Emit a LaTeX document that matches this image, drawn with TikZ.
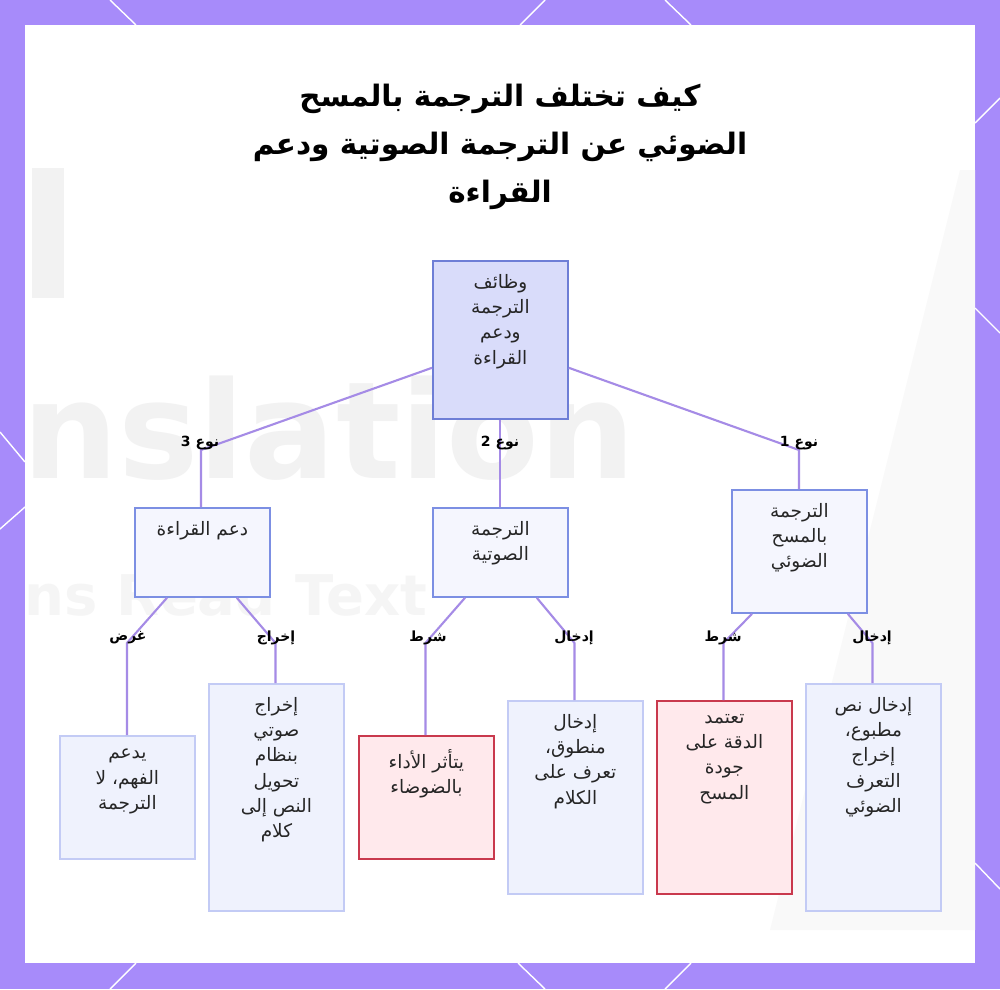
\documentclass[tikz,border=0pt]{standalone}
\usepackage{fontspec}
\newfontfamily\arabicfont[Script=Arabic]{DejaVu Sans}
\newfontfamily\wmfont{DejaVu Sans}
\TeXXeTstate=1
\newcommand{\ar}[1]{\beginR #1\endR}
\definecolor{framepurple}{HTML}{A78BFA}
\definecolor{edgecol}{HTML}{A58BE6}
\definecolor{rootfill}{HTML}{D9DCFA}
\definecolor{rootdraw}{HTML}{6E7ED6}
\definecolor{midfill}{HTML}{F5F6FE}
\definecolor{middraw}{HTML}{7C8FE3}
\definecolor{leaffill}{HTML}{EFF2FD}
\definecolor{leafdraw}{HTML}{C3CBF5}
\definecolor{redfill}{HTML}{FFE9EC}
\definecolor{reddraw}{HTML}{C9394D}
\tikzset{
  boxbase/.style={rectangle, inner sep=0pt, anchor=north west, line width=1.8pt},
  rootbox/.style={boxbase, draw=rootdraw, fill=rootfill},
  midbox/.style={boxbase, draw=middraw, fill=midfill},
  leafbox/.style={boxbase, draw=leafdraw, fill=leaffill},
  redbox/.style={boxbase, draw=reddraw, fill=redfill},
  boxtext/.style={anchor=north, inner sep=0pt, align=center, font=\arabicfont\fontsize{18.5}{25.3}\selectfont, text=black!85},
  elabel/.style={inner sep=0pt, font=\arabicfont\bfseries\fontsize{14}{16}\selectfont, text=black},
  edge/.style={draw=edgecol, line width=2.1pt},
  deco/.style={draw=white, line width=1.4pt}
}
\begin{document}
\begin{tikzpicture}[x=1pt,y=-1pt]
\useasboundingbox (0,0) rectangle (1000,989);
\fill[framepurple] (0,0) rectangle (1000,989);
\fill[white] (25,25) rectangle (975,963);
% faint background
\fill[black!2.5] (960,170) -- (975,170) -- (975,930) -- (770,930) -- cycle;
\node[anchor=west, inner sep=0pt, text=black!5, font=\wmfont\bfseries\fontsize{135}{135}\selectfont] (wm1) at (22,428) {nslation};
\node[anchor=west, inner sep=0pt, text=black!4, font=\wmfont\bfseries\fontsize{56}{56}\selectfont] (wm2) at (24,595) {ns Read Text};
\node[anchor=north west, inner sep=0pt, fill=black!5, minimum width=32pt, minimum height=130pt] (wm3) at (32,168) {};
% frame decorations
\draw[deco] (110,0) -- (136,25);
\draw[deco] (545,0) -- (520,25);
\draw[deco] (665,0) -- (691,25);
\draw[deco] (136,963) -- (110,989);
\draw[deco] (518,963) -- (545,989);
\draw[deco] (691,963) -- (665,989);
\draw[deco] (0,432) -- (25,462);
\draw[deco] (25,507) -- (0,529);
\draw[deco] (975,123) -- (1000,98);
\draw[deco] (975,308) -- (1000,333);
\draw[deco] (975,863) -- (1000,889);
% title
\node[align=center, inner sep=0pt, font=\arabicfont\bfseries\fontsize{29.5}{48}\selectfont] (title) at (500,147)
  {\ar{كيف تختلف الترجمة بالمسح}\\\ar{الضوئي عن الترجمة الصوتية ودعم}\\\ar{القراءة}};
% boxes
\node[rootbox, minimum width=135pt, minimum height=158pt] (root) at (432,260) {};
\node[midbox, minimum width=135pt, minimum height=89pt] (sup) at (134,507) {};
\node[midbox, minimum width=135pt, minimum height=89pt] (voice) at (432,507) {};
\node[midbox, minimum width=135pt, minimum height=123pt] (ocr) at (731,489) {};
\node[leafbox, minimum width=135pt, minimum height=123pt] (l1) at (59,735) {};
\node[leafbox, minimum width=135pt, minimum height=227pt] (l2) at (208,683) {};
\node[redbox, minimum width=135pt, minimum height=123pt] (l3) at (358,735) {};
\node[leafbox, minimum width=135pt, minimum height=193pt] (l4) at (507,700) {};
\node[redbox, minimum width=135pt, minimum height=193pt] (l5) at (656,700) {};
\node[leafbox, minimum width=135pt, minimum height=227pt] (l6) at (805,683) {};
% box texts
\node[boxtext] (root-t) at ([yshift=-14pt]root.north) {\ar{وظائف}\\\ar{الترجمة}\\\ar{ودعم}\\\ar{القراءة}};
\node[boxtext] (sup-t) at ([yshift=-14pt]sup.north) {\ar{دعم القراءة}};
\node[boxtext] (voice-t) at ([yshift=-14pt]voice.north) {\ar{الترجمة}\\\ar{الصوتية}};
\node[boxtext] (ocr-t) at ([yshift=-14pt]ocr.north) {\ar{الترجمة}\\\ar{بالمسح}\\\ar{الضوئي}};
\node[boxtext] (l1-t) at ([yshift=-14pt]l1.north) {\ar{يدعم}\\\ar{الفهم، لا}\\\ar{الترجمة}};
\node[boxtext] (l2-t) at ([yshift=-14pt]l2.north) {\ar{إخراج}\\\ar{صوتي}\\\ar{بنظام}\\\ar{تحويل}\\\ar{النص إلى}\\\ar{كلام}};
\node[boxtext] (l3-t) at ([yshift=-14pt]l3.north) {\ar{يتأثر الأداء}\\\ar{بالضوضاء}};
\node[boxtext] (l4-t) at ([yshift=-14pt]l4.north) {\ar{إدخال}\\\ar{منطوق،}\\\ar{تعرف على}\\\ar{الكلام}};
\node[boxtext] (l5-t) at ([yshift=-14pt]l5.north) {\ar{تعتمد}\\\ar{الدقة على}\\\ar{جودة}\\\ar{المسح}};
\node[boxtext] (l6-t) at ([yshift=-14pt]l6.north) {\ar{إدخال نص}\\\ar{مطبوع،}\\\ar{إخراج}\\\ar{التعرف}\\\ar{الضوئي}};
% bend coordinates
\coordinate (c3) at (201,450);
\coordinate (c2) at (500,450);
\coordinate (c1) at (799,450);
\coordinate (s1) at (127,643);
\coordinate (s2) at (275.5,643);
\coordinate (v1) at (425.5,643);
\coordinate (v2) at (574.5,643);
\coordinate (o1) at (723.5,643);
\coordinate (o2) at (872.5,643);
% edges
\draw[edge] ([yshift=52pt]root.south west) -- (c3) -- (c3 |- sup.north);
\draw[edge] (root.south) -- (voice.north);
\draw[edge] ([yshift=52pt]root.south east) -- (c1) -- (c1 |- ocr.north);
\draw[edge] ([xshift=33pt]sup.south west) -- (s1) -- (s1 |- l1.north);
\draw[edge] ([xshift=-34pt]sup.south east) -- (s2) -- (s2 |- l2.north);
\draw[edge] ([xshift=33pt]voice.south west) -- (v1) -- (v1 |- l3.north);
\draw[edge] ([xshift=-32pt]voice.south east) -- (v2) -- (v2 |- l4.north);
\draw[edge] ([xshift=21pt]ocr.south west) -- (o1) -- (o1 |- l5.north);
\draw[edge] ([xshift=-20pt]ocr.south east) -- (o2) -- (o2 |- l6.north);
% edge labels
\node[elabel] (lab3) at (200,443) {\ar{نوع 3}};
\node[elabel] (lab2) at (500,443) {\ar{نوع 2}};
\node[elabel] (lab1) at (799,443) {\ar{نوع 1}};
\node[elabel] (lab-s1) at (128,638) {\ar{غرض}};
\node[elabel] (lab-s2) at (276,638) {\ar{إخراج}};
\node[elabel] (lab-v1) at (428,638) {\ar{شرط}};
\node[elabel] (lab-v2) at (574,638) {\ar{إدخال}};
\node[elabel] (lab-o1) at (723,638) {\ar{شرط}};
\node[elabel] (lab-o2) at (872,638) {\ar{إدخال}};
\end{tikzpicture}
\end{document}
